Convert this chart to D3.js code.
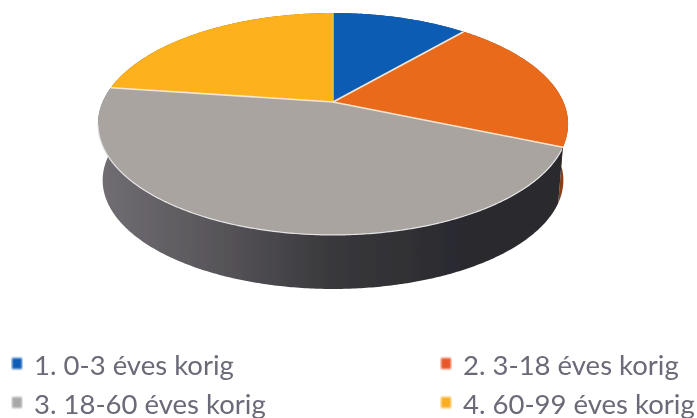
<!DOCTYPE html>
<html>
<head>
<meta charset="utf-8">
<style>
  html, body { margin: 0; padding: 0; background: #fff; }
  svg { display: block; }
  text { font-family: Lato, "Open Sans", sans-serif; }
</style>
<script src="https://cdn.jsdelivr.net/npm/d3@7"></script>
</head>
<body>
<svg id="chart" width="697" height="418"></svg>
<script>
// values (percent)
const categories = ["1. 0-3 éves korig", "2. 3-18 éves korig", "3. 18-60 éves korig", "4. 60-99 éves korig"];
const values = [11.3, 20.1, 45.8, 22.8];
const topColors = ["#0f5cb4", "#ea6a1e", "#a9a4a0", "#fdb11a"];
const wallColors = ["#0a3a72", "#8a3c12", "url(#wallGray)", "#9a6c10"];
const markerColors = ["#0f5cb8", "#e8562a", "#a8a8a8", "#fbad20"];

const svg = d3.select("#chart");
const defs = svg.append("defs");

defs.append("filter").attr("id", "soft")
  .append("feGaussianBlur").attr("stdDeviation", 0.6);
defs.append("filter").attr("id", "softer")
  .append("feGaussianBlur").attr("stdDeviation", 0.45);
defs.append("filter").attr("id", "markerBlur")
  .append("feGaussianBlur").attr("stdDeviation", 1);

const grad = defs.append("linearGradient").attr("id", "wallGray")
  .attr("gradientUnits", "userSpaceOnUse")
  .attr("x1", 100).attr("x2", 568).attr("y1", 0).attr("y2", 0);
[[0, "#716d73"], [0.25, "#58555a"], [0.5, "#38383c"], [0.8, "#29292e"], [1, "#2a2a2f"]].forEach(s => {
  grad.append("stop").attr("offset", s[0]).attr("stop-color", s[1]);
});

// tilted disc: unit circle seen in perspective, so the pie centre sits above the ellipse centre
const cx = 333, cy = 102, persp = 0.198, radX = 230.4, radY = 106.6;
const bottomScale = 0.98, bottomCy = 158.7;

function project(angle, scale, yc) {
  const x = Math.sin(angle), y = Math.cos(angle);
  const w = 1 + persp * y;
  return [cx + radX * scale * x / w, yc - radY * scale * y / w];
}

function arcAngles(a0, a1) {
  const n = Math.max(2, Math.ceil((a1 - a0) / 0.01));
  return d3.range(n + 1).map(i => a0 + (a1 - a0) * i / n);
}

const pie = d3.pie().sort(null).startAngle(0).endAngle(2 * Math.PI);
const slices = pie(values);
const line = d3.line();

const g = svg.append("g").attr("filter", "url(#softer)");

// side walls first, the top face covers whatever is behind
slices.forEach((d, i) => {
  const angles = arcAngles(d.startAngle, d.endAngle);
  const upper = angles.map(a => project(a, 1, cy));
  const lower = angles.map(a => project(a, bottomScale, bottomCy)).reverse();
  g.append("path")
    .attr("d", line(upper.concat(lower)) + "Z")
    .attr("fill", wallColors[i]);
});

// top face
slices.forEach((d, i) => {
  const rim = arcAngles(d.startAngle, d.endAngle).map(a => project(a, 1, cy));
  g.append("path")
    .attr("d", line([[cx, cy]].concat(rim)) + "Z")
    .attr("fill", topColors[i]);
});

// pale separators and rim
slices.forEach((d, i) => {
  g.append("path")
    .attr("d", line([[cx, cy], project(d.startAngle, 1, cy)]))
    .attr("fill", "none")
    .attr("stroke", i === 0 ? "#e8c040" : "#f6e6d2")
    .attr("stroke-width", 1.6);
});
const gray = slices[2];
g.append("path")
  .attr("d", line(arcAngles(gray.startAngle + 0.02, gray.endAngle - 0.35).map(a => project(a, 1, cy))))
  .attr("fill", "none")
  .attr("stroke", "#e4e4e6")
  .attr("stroke-width", 1.2);

// legend, two columns
const colX = d3.scaleOrdinal().domain([0, 1]).range([12, 441]);
const rowY = d3.scalePoint().domain([0, 1]).range([374.5, 413.5]);

const legend = svg.append("g");
categories.forEach((name, i) => {
  const col = i % 2, row = Math.floor(i / 2);
  legend.append("rect")
    .attr("x", colX(col))
    .attr("y", rowY(row) - 16.5)
    .attr("width", 10).attr("height", 11)
    .attr("fill", markerColors[i])
    .attr("filter", "url(#markerBlur)");
  legend.append("text")
    .attr("x", colX(col) + 22)
    .attr("y", rowY(row))
    .attr("font-size", 27.5)
    .attr("fill", "#6b6b78")
    .attr("filter", "url(#soft)")
    .text(name);
});
</script>
</body>
</html>
